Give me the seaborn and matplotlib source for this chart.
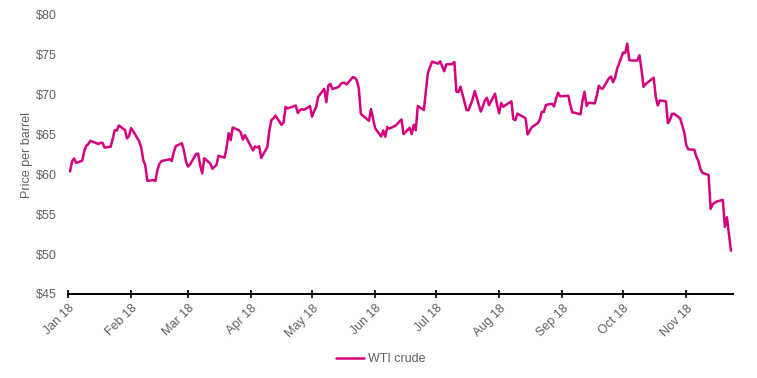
import matplotlib
matplotlib.use("Agg")
import matplotlib.pyplot as plt
import matplotlib.dates as mdates
from matplotlib.ticker import FuncFormatter
import seaborn as sns
import pandas as pd

# ---- data: WTI crude daily price ($/barrel), 2018 trading days ----
holidays = ["2018-01-01", "2018-01-15", "2018-02-19", "2018-03-30",
            "2018-05-28", "2018-07-04", "2018-09-03", "2018-11-22"]
start_date = "2018-01-02"
end_date = "2018-11-23"

jan = [60.37, 61.63, 62.01, 61.44, 61.73, 62.92, 63.60, 63.81, 64.22, 63.82, 63.97,
       63.95, 63.37, 63.49, 64.47, 65.57, 65.49, 66.14, 65.58, 64.52, 64.82]
feb = [65.80, 65.45, 64.15, 63.39, 61.79, 61.15, 59.20, 59.29, 59.19, 60.60, 61.34,
       61.68, 61.90, 61.68, 62.77, 63.55, 63.91, 63.01, 61.64]
mar = [60.99, 61.25, 62.57, 62.60, 61.15, 60.12, 62.04, 61.36, 60.71, 60.96, 61.19,
       62.34, 62.10, 63.40, 65.17, 64.30, 65.88, 65.55, 65.25, 64.38, 64.94]
apr = [63.01, 63.51, 63.37, 63.54, 62.06, 63.42, 65.51, 66.82, 67.02, 67.39, 66.22,
       66.52, 68.47, 68.29, 68.38, 68.64, 67.70, 68.05, 68.19, 68.10, 68.57]
may = [67.25, 67.93, 68.43, 69.72, 70.73, 69.06, 71.14, 71.36, 70.72, 70.96, 71.31,
       71.49, 71.49, 71.28, 72.20, 72.13, 71.82, 70.80, 67.59, 66.73, 68.21, 67.04]
jun = [65.81, 64.75, 65.52, 64.73, 65.95, 65.74, 66.11, 66.36, 66.64, 66.89, 65.06,
       65.85, 65.07, 66.22, 65.54, 68.58, 68.08, 70.53, 72.76, 73.45, 74.15]
jul = [73.89, 74.19, 72.94, 73.80, 73.85, 74.11, 70.38, 70.33, 71.01, 68.06, 68.08,
       68.76, 69.46, 70.46, 67.89, 68.52, 69.30, 69.61, 68.69, 70.13, 68.76]
aug = [67.66, 68.96, 68.49, 69.01, 69.17, 66.94, 66.81, 67.63, 67.20, 67.04, 65.01,
       65.46, 65.91, 66.43, 66.84, 67.86, 67.83, 68.72, 68.87, 68.53, 69.51, 70.25, 69.80]
sep = [69.87, 68.72, 67.77, 67.75, 67.54, 69.25, 70.37, 68.59, 68.99, 68.91, 69.85,
       71.12, 70.80, 70.78, 72.08, 72.28, 71.57, 72.12, 73.25]
oct_ = [75.30, 75.23, 76.41, 74.34, 74.29, 74.29, 74.96, 73.17, 70.97, 71.34, 71.92,
        72.13, 69.75, 68.65, 69.28, 69.17, 66.43, 66.82, 67.59, 67.62, 67.04, 66.18, 65.31]
nov = [63.69, 63.14, 63.10, 62.21, 61.67, 60.67, 60.19, 59.93, 55.69, 56.25, 56.46,
       56.60, 56.80, 53.43, 54.63, 50.42]

series_name = "WTI crude"
y_label = "Price per barrel"
y_ticks = [45, 50, 55, 60, 65, 70, 75, 80]

dates = pd.bdate_range(start_date, end_date)
dates = dates[~dates.isin(pd.to_datetime(holidays))]
prices = jan + feb + mar + apr + may + jun + jul + aug + sep + oct_ + nov
assert len(dates) == len(prices)
df = pd.DataFrame({"date": dates, "price": prices})

# ---- style ----
sns.set_style("white")
plt.rcParams["font.family"] = ["Liberation Sans", "DejaVu Sans"]
text_color = "#606060"
line_color = "#D4007F"

fig = plt.figure(figsize=(7.57, 3.78), dpi=100)
ax = fig.add_axes([68 / 757, 1 - 294 / 378, (733 - 68) / 757, (294 - 15) / 378])

sns.lineplot(data=df, x="date", y="price", ax=ax, color=line_color,
             linewidth=1.8, label=series_name, legend=False)

ax.set_xlim(pd.Timestamp("2018-01-01"), pd.Timestamp("2018-11-24"))
ax.set_ylim(45, 80)
ax.set_yticks(y_ticks)
ax.yaxis.set_major_formatter(FuncFormatter(lambda v, p: f"${v:.0f}"))
ax.xaxis.set_major_locator(mdates.MonthLocator())
ax.xaxis.set_major_formatter(mdates.DateFormatter("%b %y"))

for s in ["top", "right", "left"]:
    ax.spines[s].set_visible(False)
ax.spines["bottom"].set_color("black")
ax.spines["bottom"].set_linewidth(1.4)

ax.tick_params(axis="y", length=0, pad=8, labelsize=9, labelcolor=text_color)
ax.tick_params(axis="x", direction="inout", length=6, width=1.2, color="black",
               pad=3, labelsize=9, labelcolor=text_color, bottom=True)
plt.setp(ax.get_xticklabels(), rotation=45, ha="right", rotation_mode="anchor")

ax.set_xlabel("")
ax.set_ylabel(y_label, fontsize=9, color=text_color, labelpad=2)
ax.grid(False)

handles, labels = ax.get_legend_handles_labels()
fig.legend(handles, labels, loc="center", bbox_to_anchor=(0.503, 0.05),
           frameon=False, fontsize=9, handlelength=2.2, handletextpad=0.3,
           labelcolor=text_color)

fig.savefig("out.png", dpi=100)
